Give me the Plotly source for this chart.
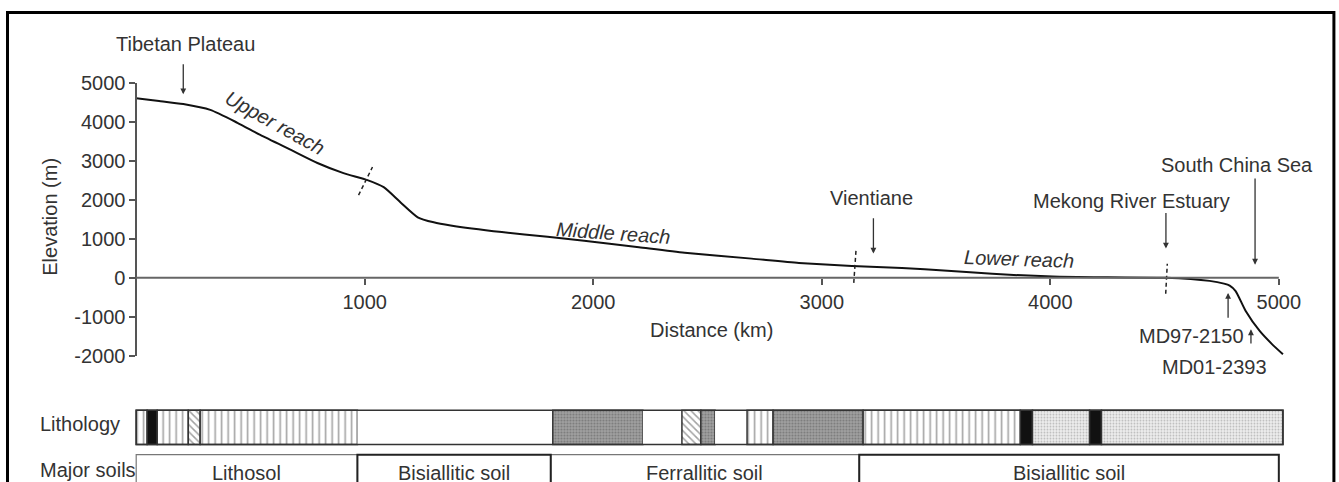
import plotly.graph_objects as go

# ---------------- data ----------------
dist_km = [0, 100, 206, 324, 443, 543, 675, 793, 907, 1012, 1083, 1157, 1232, 1302, 1376,
           1600, 1800, 1960, 2200, 2400, 2693, 2900, 3132, 3351, 3550, 3746, 4009, 4250,
           4504, 4697, 4760, 4785, 4811, 4855, 4917, 4970, 5018]
elev_m = [4600, 4530, 4450, 4300, 3970, 3660, 3280, 2940, 2680, 2500, 2320, 1930, 1550, 1420, 1340,
          1170, 1050, 950, 780, 640, 490, 380, 300, 250, 180, 100, 30, 10,
          0, -80, -150, -200, -340, -850, -1370, -1700, -1960]

break_x = [[973, 1034], [3140, 3150], [4505, 4512]]
break_y = [[2115, 2837], [-130, 720], [-410, 360]]

x_ticks = [1000, 2000, 3000, 4000, 5000]
x_tick_text = ["1000", "2000", "3000", "4000", "5000"]
y_ticks = [-2000, -1000, 0, 1000, 2000, 3000, 4000, 5000]
y_tick_text = ["-2000", "-1000", "0", "1000", "2000", "3000", "4000", "5000"]

lith_start = [0, 48, 92, 228, 280, 968, 1823, 2217, 2388, 2471, 2533, 2673, 2787, 3181, 3869, 3922, 4172, 4224]
lith_end = [48, 92, 228, 280, 968, 1823, 2217, 2388, 2471, 2533, 2673, 2787, 3181, 3869, 3922, 4172, 4224, 5018]
lith_type = ['vlines', 'black', 'vlines', 'hatch', 'vlines', 'blank', 'darkdot', 'blank', 'hatch',
             'darkdot', 'blank', 'vlines', 'darkdot', 'vlines', 'black', 'lightdot', 'black', 'lightdot']

soil_names = ['Lithosol', 'Bisiallitic soil', 'Ferrallitic soil', 'Bisiallitic soil']
soil_start = [0, 968, 1814, 3164]
soil_end = [968, 1814, 3164, 5000]

# ---------------- geometry ----------------
# the page is photographed with a small fixed scale/offset; positions below are
# given in picture pixels and converted to page pixels.
SX, SY, OY = 0.989, 0.948, 12.0
FIG_W, FIG_H = 1356, 498


def PX(ix):
    return ix / SX


def PY(iy):
    return (iy - OY) / SY


def paper(ix, iy):
    return PX(ix) / FIG_W, 1 - PY(iy) / FIG_H


# x axis: 0 km at picture x 136, 5000 km at 1277
X0, X5 = PX(136), PX(1277)
KPX = (X5 - X0) / 5000.0
XMIN, XMAX = -10, 5040
x_dom = [(X0 + XMIN * KPX) / FIG_W, (X0 + XMAX * KPX) / FIG_W]
# y axis: 5000 m at picture y 83, -2000 m at 354
Y_TOP, Y_BOT = PY(83), PY(354)
y_dom = [1 - Y_BOT / FIG_H, 1 - Y_TOP / FIG_H]
zero_page = Y_TOP + 5 / 7 * (Y_BOT - Y_TOP)
# bottom strip (y2 units = page px measured up from the figure bottom)
Y2_TOP_PAGE = 405.0
y2_span = FIG_H - Y2_TOP_PAGE
lith_v0, lith_v1 = FIG_H - PY(442), FIG_H - PY(408)
soil_v1, soil_v0 = FIG_H - PY(452), -10

FONT = "Liberation Sans, Arial, sans-serif"
FS = 20
TXT = "#333"

fig = go.Figure()

fig.add_trace(go.Scatter(x=dist_km, y=elev_m, mode="lines", line=dict(color="#111", width=2, shape="spline", smoothing=0.6),
                         hoverinfo="skip", xaxis="x", yaxis="y"))
for bx, by in zip(break_x, break_y):
    fig.add_trace(go.Scatter(x=bx, y=by, mode="lines", line=dict(color="#222", width=1.5, dash="4px,3px"),
                             hoverinfo="skip", xaxis="x", yaxis="y"))

styles = {
    'vlines': dict(color="white", pattern=dict(shape="|", fgcolor="#4a4a4a", size=6.5, solidity=0.25, fillmode="overlay")),
    'hatch': dict(color="white", pattern=dict(shape="\\", fgcolor="#444", size=5, solidity=0.3, fillmode="overlay")),
    'darkdot': dict(color="#a2a2a2", pattern=dict(shape=".", fgcolor="#4f4f4f", size=3, solidity=0.4, fillmode="overlay")),
    'lightdot': dict(color="#eeeeee", pattern=dict(shape=".", fgcolor="#858585", size=3, solidity=0.3, fillmode="overlay")),
    'black': dict(color="#111"),
    'blank': dict(color="white"),
}
lith_c, lith_w = (lith_v0 + lith_v1) / 2, lith_v1 - lith_v0
for s, e, t in zip(lith_start, lith_end, lith_type):
    m = dict(styles[t])
    m["line"] = dict(width=0) if t == 'blank' else dict(color="#333", width=1.5)
    fig.add_trace(go.Bar(y=[lith_c], x=[e - s], base=[s], width=lith_w, orientation="h", marker=m,
                         hoverinfo="skip", xaxis="x", yaxis="y2"))

soil_c, soil_w = (soil_v0 + soil_v1) / 2, soil_v1 - soil_v0
for i in [0, 2, 1, 3]:
    thick = soil_names[i].startswith("Bisiallitic")
    fig.add_trace(go.Bar(y=[soil_c], x=[soil_end[i] - soil_start[i]], base=[soil_start[i]], width=soil_w,
                         orientation="h",
                         marker=dict(color="rgba(255,255,255,0)",
                                     line=dict(color="#222" if thick else "#777", width=2 if thick else 1.2)),
                         hoverinfo="skip", xaxis="x", yaxis="y2"))

shapes = [
    dict(type="line", xref="x", yref="y", x0=0, x1=5000, y0=0, y1=0, line=dict(color="#666", width=2)),
    dict(type="rect", xref="x", yref="y2", x0=lith_start[0], x1=lith_end[-1], y0=lith_v0, y1=lith_v1,
         line=dict(color="#333", width=1.5), fillcolor="rgba(0,0,0,0)", layer="above"),
    dict(type="rect", xref="paper", yref="paper", x0=paper(7.5, 0)[0], x1=paper(1332, 0)[0],
         y0=-0.2, y1=1 - 1.6 / FIG_H, line=dict(color="black", width=3), fillcolor="rgba(0,0,0,0)"),
]

ann = []


def text(ix, iy, s, angle=0, xanchor="center"):
    x, y = paper(ix, iy)
    ann.append(dict(xref="paper", yref="paper", x=x, y=y, text=s, showarrow=False, textangle=angle,
                    xanchor=xanchor, yanchor="middle", font=dict(family=FONT, size=FS, color=TXT)))


def arrow(xkm, ym, idy):
    ann.append(dict(xref="x", yref="y", x=xkm, y=ym, text="", showarrow=True, ax=0, ay=idy / SY,
                    arrowhead=2, arrowsize=0.9, arrowwidth=1.3, arrowcolor="#333"))


text(185, 45, "Tibetan Plateau")
arrow(206, 4700, -30)
text(870, 197, "Vientiane")
arrow(3226, 620, -35)
text(1130, 200, "Mekong River Estuary")
arrow(4506, 750, -35)
text(1235, 165, "South China Sea")
arrow(4896, 335, -83)
text(1190, 334, "MD97-2150")
arrow(4778, -390, 25)
text(1213, 365, "MD01-2393")
arrow(4878, -1320, 15)

text(275, 123, "<i>Upper reach</i>", angle=29)
text(613, 232, "<i>Middle reach</i>", angle=4)
text(1018, 258, "<i>Lower reach</i>", angle=2)

text(50, 216, "Elevation (m)", angle=-90)
text(710, 328, "Distance (km)")
text(38, 422, "Lithology", xanchor="left")
text(38, 467, "Major soils", xanchor="left")

for n, s, e in zip(soil_names, soil_start, soil_end):
    ann.append(dict(xref="x", yref="paper", x=(s + e) / 2, y=paper(0, 470)[1], text=n, showarrow=False,
                    xanchor="center", yanchor="middle", font=dict(family=FONT, size=FS, color=TXT)))

fig.update_layout(
    width=FIG_W, height=FIG_H, autosize=False, margin=dict(l=0, r=0, t=0, b=0, pad=0),
    paper_bgcolor="white", plot_bgcolor="white", showlegend=False, barmode="overlay",
    xaxis=dict(domain=x_dom, range=[XMIN, XMAX], anchor="free", position=1 - zero_page / FIG_H,
               showline=False, showgrid=False, zeroline=False, ticks="outside", ticklen=6, tickwidth=1.5,
               tickcolor="#555", tickvals=x_ticks, ticktext=x_tick_text,
               tickfont=dict(family=FONT, size=FS, color=TXT)),
    yaxis=dict(domain=y_dom, range=[-2000, 5000], anchor="free", position=X0 / FIG_W,
               showline=True, linecolor="#555", linewidth=1.5, showgrid=False, zeroline=False,
               ticks="outside", ticklen=6, tickwidth=1.5, tickcolor="#555", tickvals=y_ticks, ticktext=y_tick_text,
               tickfont=dict(family=FONT, size=FS, color=TXT)),
    yaxis2=dict(domain=[0, y2_span / FIG_H], range=[0, y2_span], visible=False, anchor="x"),
    shapes=shapes, annotations=ann,
)

fig.write_html("out.html", config={"responsive": False})
